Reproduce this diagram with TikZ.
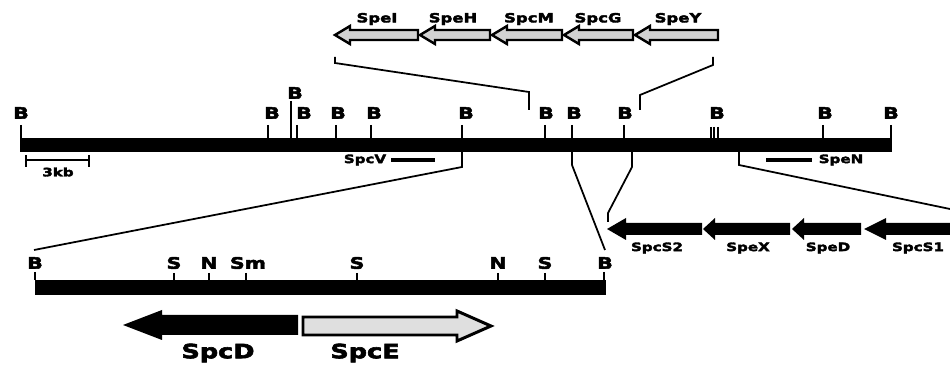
\documentclass[tikz,border=0pt]{standalone}
\usepackage{fontspec}
\newfontfamily\mapfont{DejaVu Sans}[FakeStretch=1.3,BoldFeatures={FakeBold=3}]
\usetikzlibrary{calc}

\begin{document}
\begin{tikzpicture}[x=0.02cm,y=-0.02cm,
	site/.style={inner sep=0pt,font=\mapfont\bfseries\fontsize{9}{10}\selectfont},
	gname/.style={inner sep=0pt,font=\mapfont\bfseries\fontsize{6.6}{7}\selectfont},
	topname/.style={inner sep=0pt,font=\mapfont\bfseries\fontsize{7.2}{8}\selectfont},
	bigname/.style={inner sep=0pt,font=\mapfont\bfseries\fontsize{11.2}{12}\selectfont},
	cut/.style={line width=0.8pt},
	link/.style={line width=1pt},
	greygene/.style={draw=black,line width=1.4pt,fill=gray!35,line join=miter},
	blackgene/.style={fill=black}]
	\clip (0,0) rectangle (950,367);

	% main BamHI map
	\fill (20,138) rectangle (891,152);
	\draw [cut] (21,125) -- (21,138);
	\draw [cut] (268,125) -- (268,138);
	\draw [cut] (291,101) -- (291,138);
	\draw [cut] (297,125) -- (297,138);
	\draw [cut] (336,125) -- (336,138);
	\draw [cut] (371,125) -- (371,138);
	\draw [cut] (462,125) -- (462,138);
	\draw [cut] (545,125) -- (545,138);
	\draw [cut] (572,125) -- (572,138);
	\draw [cut] (624,125) -- (624,138);
	\draw [cut] (711,127) -- (711,138);
	\draw [cut] (714,127) -- (714,138);
	\draw [cut] (718,127) -- (718,138);
	\draw [cut] (823,125) -- (823,138);
	\draw [cut] (891,125) -- (891,152);
	\node [site] (B1) at (21,113) {B};
	\node [site] (B2) at (272,113) {B};
	\node [site] (B3) at (295,93) {B};
	\node [site] (B4) at (304,113) {B};
	\node [site] (B5) at (338,113) {B};
	\node [site] (B6) at (374,113) {B};
	\node [site] (B7) at (466,113) {B};
	\node [site] (B8) at (546,113) {B};
	\node [site] (B9) at (574,113) {B};
	\node [site] (B10) at (625,113) {B};
	\node [site] (B11) at (717,113) {B};
	\node [site] (B12) at (825,113) {B};
	\node [site] (B13) at (891,113) {B};

	% scale bar and probes
	\draw [line width=1.5pt] (26,160) -- (89,160);
	\draw [cut] (26,155) -- (26,167);
	\draw [cut] (89,155) -- (89,167);
	\node [gname] (kb) at (58,172) {3kb};
	\node [gname] (spcV) at (365,160) {SpcV};
	\draw [line width=2.3pt] (391,160) -- (435,160);
	\draw [line width=2.3pt] (766,160) -- (812,160);
	\node [gname] (speN) at (841,160) {SpeN};

	% upper cluster
	\draw [greygene] (335,35) -- (350,26) -- (350,30) -- (418,30) -- (418,40) -- (350,40) -- (350,44) -- cycle;
	\draw [greygene] (420,35) -- (435,26) -- (435,30) -- (490,30) -- (490,40) -- (435,40) -- (435,44) -- cycle;
	\draw [greygene] (492,35) -- (507,26) -- (507,30) -- (562,30) -- (562,40) -- (507,40) -- (507,44) -- cycle;
	\draw [greygene] (564,35) -- (579,26) -- (579,30) -- (633,30) -- (633,40) -- (579,40) -- (579,44) -- cycle;
	\draw [greygene] (635,35) -- (650,26) -- (650,30) -- (718,30) -- (718,40) -- (650,40) -- (650,44) -- cycle;
	\node [topname] (speI) at (377,19) {SpeI};
	\node [topname] (speH) at (453,19) {SpeH};
	\node [topname] (spcM) at (529,19) {SpcM};
	\node [topname] (spcG) at (598,19) {SpcG};
	\node [topname] (speY) at (678,19) {SpeY};
	\coordinate (upL) at (335,57);
	\coordinate (upR) at (713,57);
	\coordinate (siteL) at (529,110);
	\coordinate (siteR) at (640,110);
	\draw [link] (siteL) -- (529,92) -- (335,63) -- (upL);
	\draw [link] (siteR) -- (640,95) -- (713,65) -- (upR);

	% right cluster
	\fill [blackgene] (607,229) -- (626,218) -- (626,223) -- (702,223) -- (702,235) -- (626,235) -- (626,240) -- cycle;
	\fill [blackgene] (703,229) -- (715,218) -- (715,223) -- (790,223) -- (790,235) -- (715,235) -- (715,240) -- cycle;
	\fill [blackgene] (792,229) -- (804,218) -- (804,223) -- (861,223) -- (861,235) -- (804,235) -- (804,240) -- cycle;
	\fill [blackgene] (864,229) -- (886,218) -- (886,223) -- (960,223) -- (960,235) -- (886,235) -- (886,240) -- cycle;
	\node [gname] (spcS2) at (657,248) {SpcS2};
	\node [gname] (speX) at (748,248) {SpeX};
	\node [gname] (speD) at (828,248) {SpeD};
	\node [gname] (spcS1) at (918,248) {SpcS1};
	\coordinate (dnA) at (632,152);
	\coordinate (dnB) at (739,152);
	\coordinate (rgL) at (608,222);
	\coordinate (rgR) at (950,209);
	\draw [link] (dnA) -- (632,167) -- (608,213) -- (rgL);
	\draw [link] (dnB) -- (739,165) -- (rgR);

	% enlarged fragment
	\fill (35,280) rectangle (606,295);
	\draw [cut] (35,272) -- (35,280);
	\draw [cut] (174,273) -- (174,280);
	\draw [cut] (209,273) -- (209,280);
	\draw [cut] (246,273) -- (246,280);
	\draw [cut] (357,273) -- (357,280);
	\draw [cut] (498,273) -- (498,280);
	\draw [cut] (545,273) -- (545,280);
	\draw [cut] (604,272) -- (604,280);
	\node [site] (f1) at (35,263) {B};
	\node [site] (f2) at (174,263) {S};
	\node [site] (f3) at (209,263) {N};
	\node [site] (f4) at (248,263) {Sm};
	\node [site] (f5) at (357,263) {S};
	\node [site] (f6) at (498,263) {N};
	\node [site] (f7) at (545,263) {S};
	\node [site] (f8) at (605,263) {B};
	\coordinate (cutL) at (462,152);
	\coordinate (cutR) at (572,152);
	\draw [link] (cutL) -- (462,167) -- (34,250);
	\draw [link] (cutR) -- (572,165) -- (605,250);

	\fill [blackgene] (123,325) -- (162,310) -- (162,315) -- (298,315) -- (298,335) -- (162,335) -- (162,340) -- cycle;
	\draw [greygene,line width=1.7pt,fill=gray!25] (303,317) -- (457,317) -- (457,311) -- (491,326) -- (457,341) -- (457,335) -- (303,335) -- cycle;
	\node [bigname] (spcD) at (218,353) {SpcD};
	\node [bigname] (spcE) at (365,353) {SpcE};
\end{tikzpicture}
\end{document}
